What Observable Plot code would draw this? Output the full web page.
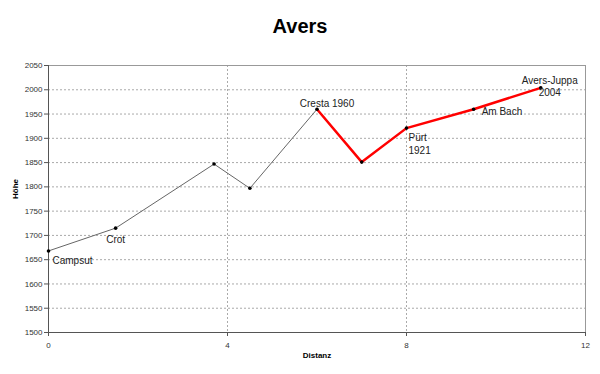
<!DOCTYPE html>
<html>
<head>
<meta charset="utf-8">
<script src="https://cdn.jsdelivr.net/npm/d3@7"></script>
<script src="https://cdn.jsdelivr.net/npm/@observablehq/plot@0.6"></script>
<style>
  html, body { margin: 0; padding: 0; background: #fff; }
  body { width: 600px; height: 374px; overflow: hidden; font-family: "Liberation Sans", Arial, sans-serif; }
  #title { height: 50px; box-sizing: border-box; padding-top: 14px; text-align: center; font-size: 20px; font-weight: bold; line-height: 24px; color: #000; }
  svg { display: block; }
</style>
</head>
<body>
<div id="title">Avers</div>
<div id="chart"></div>
<script>
// Data
const distanz = [0, 1.5, 3.7, 4.5, 6.0, 7.0, 8.0, 9.5, 11.0];
const hoehe   = [1668, 1715, 1847, 1797, 1960, 1851, 1921, 1960, 2004];
const names   = ["Campsut", "Crot", "", "", "Cresta 1960", "", "Pürt\n1921", "Am Bach", "Avers-Juppa\n2004"];
// segment: gray (old), red (new)
const grayIdx = [0, 1, 2, 3, 4];
const redIdx  = [4, 5, 6, 7, 8];
const yTicks = [1500, 1550, 1600, 1650, 1700, 1750, 1800, 1850, 1900, 1950, 2000, 2050];
const xTicks = [0, 4, 8, 12];

const pts = distanz.map((d, i) => ({x: d, y: hoehe[i], name: names[i]}));
const grayPts = grayIdx.map(i => pts[i]);
const redPts = redIdx.map(i => pts[i]);

const labelStyle = {
  "Campsut": {dx: 4, dy: 9, textAnchor: "start"},
  "Crot": {dx: 0, dy: 11, textAnchor: "middle"},
  "Cresta 1960": {dx: 10, dy: -6, textAnchor: "middle"},
  "Pürt\n1921": {dx: 2, dy: 15, textAnchor: "start"},
  "Am Bach": {dx: 8, dy: 2, textAnchor: "start"},
  "Avers-Juppa\n2004": {dx: 9, dy: -2, textAnchor: "middle"}
};

const font = "'Liberation Sans', Arial, sans-serif";

const labelMarks = Object.entries(labelStyle).map(([n, s]) =>
  Plot.text(pts.filter(p => p.name === n), {
    x: "x", y: "y", text: "name", dx: s.dx, dy: s.dy, textAnchor: s.textAnchor,
    fontSize: 10, fill: "#222", lineHeight: 1.3
  })
);

const chart = Plot.plot({
  width: 600,
  height: 324,
  marginTop: 15,
  marginBottom: 42,
  marginLeft: 48,
  marginRight: 15,
  style: {fontFamily: font, fontSize: "8px", color: "#000", background: "#fff"},
  x: {domain: [0, 12], ticks: xTicks, tickSize: 4, tickPadding: 6, label: null},
  y: {domain: [1500, 2050], ticks: yTicks, tickSize: 4, tickPadding: 3, label: null},
  marks: [
    Plot.gridY(yTicks.filter(t => t > 1500 && t < 2050), {stroke: "#aaa", strokeOpacity: 1, strokeDasharray: "2,2", strokeWidth: 1}),
    Plot.gridX(xTicks.filter(t => t > 0 && t < 12), {stroke: "#aaa", strokeOpacity: 1, strokeDasharray: "2,2", strokeWidth: 1}),
    Plot.ruleY([2050], {stroke: "#999"}),
    Plot.ruleX([12], {stroke: "#999"}),
    Plot.ruleX([0], {stroke: "#555"}),
    Plot.ruleY([1500], {stroke: "#555"}),
    Plot.axisX({ticks: xTicks, tickFormat: d3.format("d"), tickSize: 4, tickPadding: 6, stroke: "#555", fill: "#333", fontSize: 8, label: null}),
    Plot.axisY({ticks: yTicks, tickFormat: d3.format("d"), tickSize: 4, tickPadding: 2, stroke: "#555", fill: "#333", fontSize: 8, label: null}),
    Plot.line(grayPts, {x: "x", y: "y", stroke: "#666", strokeWidth: 1}),
    Plot.line(redPts, {x: "x", y: "y", stroke: "#ff0000", strokeWidth: 2.5}),
    Plot.dot(pts, {x: "x", y: "y", r: 1.8, fill: "#000", stroke: null}),
    ...labelMarks,
    Plot.text(["Distanz"], {frameAnchor: "bottom", dy: 25, text: d => d, fontSize: 8, fontWeight: "bold", fill: "#000"}),
    Plot.text(["Höhe"], {frameAnchor: "left", dx: -33, rotate: -90, text: d => d, fontSize: 8, fontWeight: "bold", fill: "#000"})
  ]
});
document.getElementById("chart").appendChild(chart);
</script>
</body>
</html>
